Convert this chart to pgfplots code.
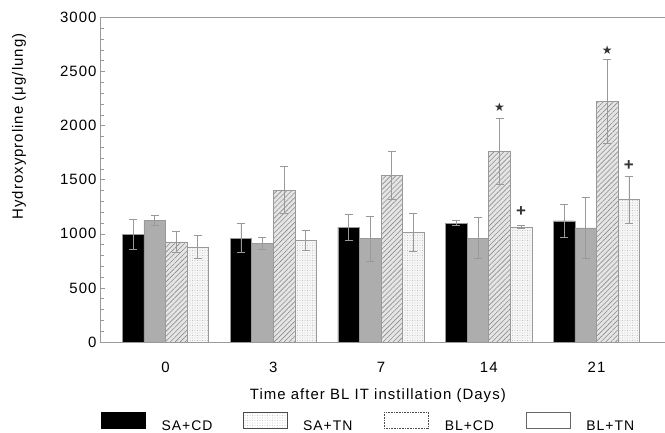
\documentclass[border=0pt]{standalone}
\usepackage{fontspec}
\setmainfont{Liberation Sans}[LetterSpace=7]
\newfontfamily\symfont{DejaVu Sans}
\usepackage{pgfplots}
\pgfplotsset{compat=1.18}
\usetikzlibrary{patterns,patterns.meta}
\definecolor{axgray}{gray}{0.6}
\definecolor{bargray}{gray}{0.68}
\definecolor{hbg}{gray}{0.9}
\definecolor{dbg}{gray}{0.965}
\definecolor{hline}{gray}{0.55}
\definecolor{dotc}{gray}{0.65}
\pgfplotstableread{
x y e
0 995 140
1 960 135
2 1059 120
3 1100 25
4 1120 150
}\sacd
\pgfplotstableread{
x y e
0 1125 45
1 915 55
2 955 205
3 960 190
4 1055 280
}\satn
\pgfplotstableread{
x y e
0 925 100
1 1405 220
2 1540 225
3 1760 305
4 2225 385
}\blcd
\pgfplotstableread{
x y e
0 880 110
1 940 90
2 1015 175
3 1065 15
4 1315 215
}\bltn
\begin{document}
\begin{tikzpicture}
\useasboundingbox (0,0) rectangle (665bp,433bp);
\begin{axis}[
  at={(100bp,91bp)}, anchor=south west, scale only axis,
  width=567bp, height=324.5bp,
  xmin=-0.608, xmax=4.654, ymin=0, ymax=3000,
  ybar, bar width=0.2,
  axis line style={axgray, line width=0.8bp},
  xtick={0,1,2,3,4}, xticklabels={0,3,7,14,21},
  x tick style={draw=none},
  ytick={0,500,...,3000}, minor y tick num=4,
  y tick style={axgray, line width=0.6bp},
  tick align=inside, tick pos=left,
  major tick length=5bp, minor tick length=3.5bp,
  /pgf/number format/.cd, 1000 sep={}, assume math mode=true, /pgfplots/.cd,
  tick label style={font=\fontsize{15}{15}\selectfont},
  xticklabel style={yshift=-17bp},
  every axis x label/.style={at={(rel axis cs:0.49,0)}, anchor=north, yshift=-43bp, font=\fontsize{15}{15}\selectfont},
  every axis y label/.style={at={(rel axis cs:0,0.664)}, xshift=-81bp, rotate=90, anchor=center, font=\fontsize{15}{15}\selectfont},
  xlabel={Time after BL IT instillation (Days)},
  ylabel={Hydroxyproline (μg/lung)},
  error bars/y dir=both, error bars/y explicit,
  error bars/error bar style={axgray, line width=0.7bp},
  error bars/error mark options={rotate=90, mark size=4bp, axgray, line width=0.7bp},
  legend columns=4,
  legend style={at={(rel axis cs:0,0)}, anchor=north west, yshift=-70bp, xshift=1bp,
    draw=none, fill=none, inner sep=0pt, font=\fontsize{14}{14}\selectfont,
    nodes={inner sep=0pt},
    /tikz/every odd column/.append style={column sep=16bp},
    /tikz/every even column/.append style={column sep=16bp}},
]
\addplot[forget plot, bar shift=-0.3, fill=black, draw=axgray, line width=0.6bp]
  table[x=x, y=y, y error=e] {\sacd};
\addplot[forget plot, bar shift=-0.1, fill=bargray, draw=axgray, line width=0.6bp]
  table[x=x, y=y, y error=e] {\satn};
\addplot[forget plot, bar shift=0.1, fill=hbg, draw=axgray, line width=0.6bp,
  postaction={pattern={Lines[angle=45, distance=3.5bp, line width=0.6bp]}, pattern color=hline}]
  table[x=x, y=y, y error=e] {\blcd};
\addplot[forget plot, bar shift=0.3, fill=dbg, draw=axgray, line width=0.6bp,
  postaction={pattern={Dots[distance=2.5bp, radius=0.4bp]}, pattern color=dotc}]
  table[x=x, y=y, y error=e] {\bltn};
\addlegendimage{legend image code/.code={\draw[fill=black, draw=black] (0bp,-2bp) rectangle (44bp,14bp);}}
\addlegendentry{\makebox[65bp][l]{SA+CD}}
\addlegendimage{legend image code/.code={\draw[fill=white, draw=black!70, line width=0.6bp, postaction={pattern={Dots[distance=2.5bp, radius=0.4bp]}, pattern color=black!35}] (0bp,-2bp) rectangle (44bp,14bp);}}
\addlegendentry{\makebox[65bp][l]{SA+TN}}
\addlegendimage{legend image code/.code={\draw[fill=white, draw=black!70, line width=0.6bp, densely dotted] (0bp,-2bp) rectangle (44bp,14bp);}}
\addlegendentry{\makebox[65bp][l]{BL+CD}}
\addlegendimage{legend image code/.code={\draw[fill=white, draw=black!60, line width=0.6bp] (0bp,-2bp) rectangle (44bp,14bp);}}
\addlegendentry{\makebox[65bp][l]{BL+TN}}
\node[font=\symfont\fontsize{12}{12}\selectfont, text=black!80] at (axis cs:3.1,2175) {★};
\node[font=\symfont\fontsize{12}{12}\selectfont, text=black!80] at (axis cs:4.1,2700) {★};
\node[font=\fontsize{17}{17}\selectfont\bfseries, text=black!80] at (axis cs:3.3,1205) {+};
\node[font=\fontsize{17}{17}\selectfont\bfseries, text=black!80] at (axis cs:4.3,1630) {+};
\end{axis}
\end{tikzpicture}
\end{document}
